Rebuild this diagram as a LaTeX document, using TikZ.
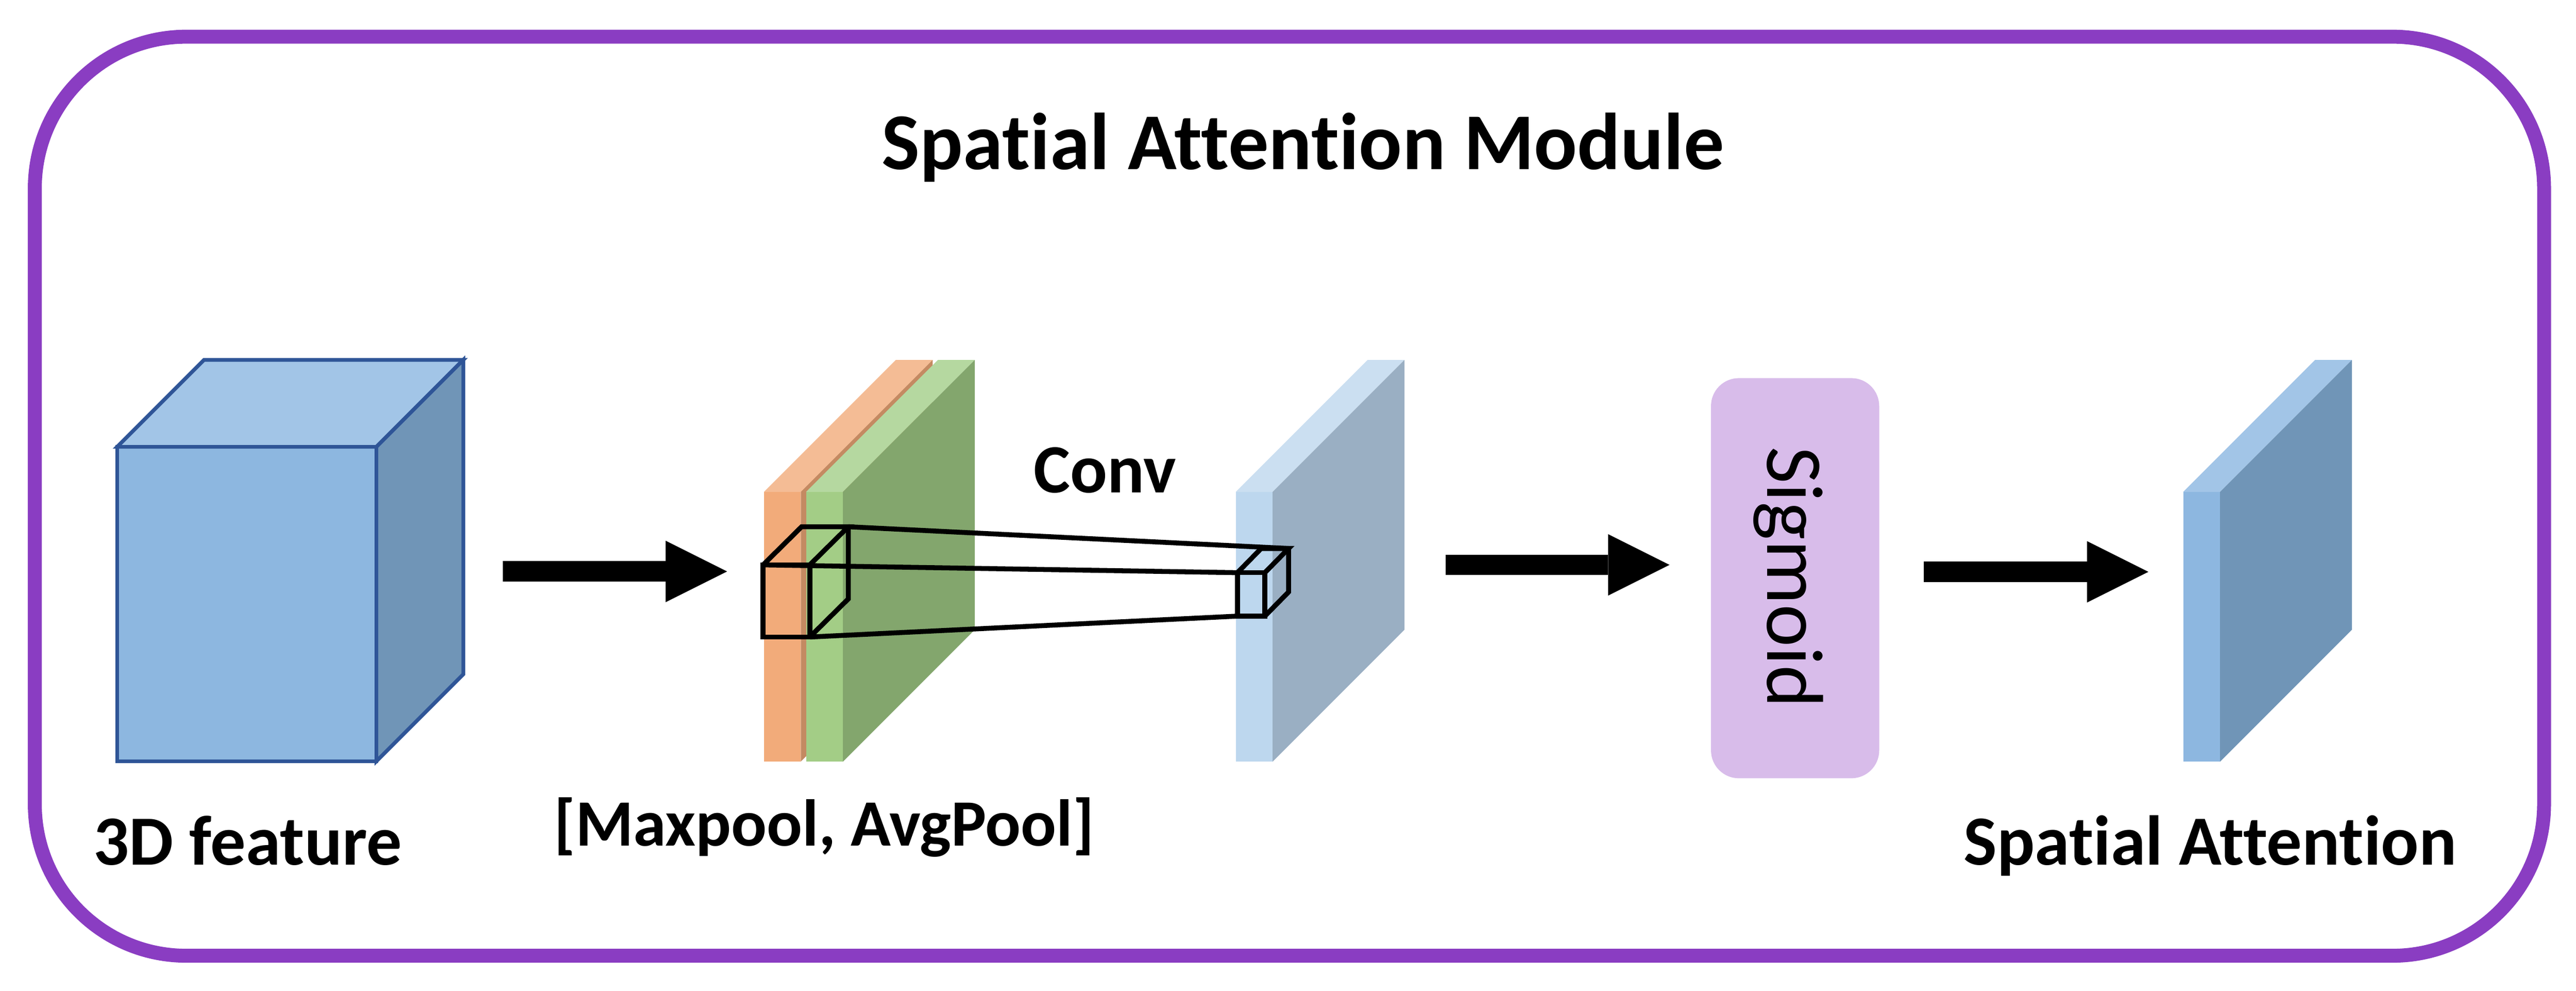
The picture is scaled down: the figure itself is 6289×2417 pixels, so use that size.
\documentclass[tikz,border=0pt]{standalone}
\usepackage{fontspec}
\setmainfont{Carlito}[Ligatures={NoCommon,NoContextual}]
\usetikzlibrary{arrows.meta}
\definecolor{framePurple}{HTML}{8A3DC2}
\definecolor{cubeEdge}{HTML}{2F5597}
\definecolor{blueF}{HTML}{8DB7E0}
\definecolor{blueT}{HTML}{A2C5E7}
\definecolor{blueS}{HTML}{7095B7}
\definecolor{paleF}{HTML}{BDD7EE}
\definecolor{paleT}{HTML}{CBDFF1}
\definecolor{paleS}{HTML}{9AAFC3}
\definecolor{orangeF}{HTML}{F2AB7A}
\definecolor{orangeT}{HTML}{F4BC95}
\definecolor{orangeS}{HTML}{C48A62}
\definecolor{greenF}{HTML}{A3CD86}
\definecolor{greenT}{HTML}{B5D8A0}
\definecolor{greenS}{HTML}{83A66D}
\definecolor{sigFill}{HTML}{D8BCEA}

\begin{document}
\begin{tikzpicture}[
	x=0.005cm,y=-0.005cm,
	frame/.style={draw=framePurple,line width=0.17cm,rounded corners=1.85cm},
	cubeface/.style={draw=cubeEdge,line width=0.045cm,line join=miter},
	kernel/.style={draw=black,line width=0.06cm,line join=miter},
	blockarrow/.style={line width=0.25cm,
		-{Triangle[length=0.75cm,width=0.75cm,line width=0pt]}},
	caption/.style={anchor=base,inner sep=0pt,
		font=\bfseries\fontsize{24.5pt}{29pt}\selectfont},
	sigbox/.style={rectangle,fill=sigFill,rounded corners=0.34cm,
		minimum width=2.055cm,minimum height=4.885cm,inner sep=0pt}
	]
	\useasboundingbox (0,0) rectangle (6289,2417);
	\draw [frame] (85,89.5) rectangle (6211,2331.5);
	\node [caption,font=\bfseries\fontsize{28pt}{34pt}\selectfont] (title) at (3181,413) {Spatial Attention Module};

	% 3D FEATURE
	\filldraw [cubeface,fill=blueF] (286,1090) rectangle (919,1857);
	\filldraw [cubeface,fill=blueT] (286,1090) -- (498,878) -- (1131,878) -- (919,1090) -- cycle;
	\filldraw [cubeface,fill=blueS] (919,1090) -- (1131,878) -- (1131,1645) -- (919,1857) -- cycle;
	\node [caption] (feat) at (605,2110) {3D feature};

	% MAXPOOL / AVGPOOL
	\begin{scope}[shift={(1865,0)}]
		\fill [orangeF] (0,1200) rectangle (90,1858);
		\fill [orangeT] (0,1200) -- (322,878) -- (412,878) -- (90,1200) -- cycle;
		\fill [orangeS] (90,1200) -- (412,878) -- (412,1536) -- (90,1858) -- cycle;
	\end{scope}
	\begin{scope}[shift={(1968,0)}]
		\fill [greenF] (0,1200) rectangle (90,1858);
		\fill [greenT] (0,1200) -- (322,878) -- (412,878) -- (90,1200) -- cycle;
		\fill [greenS] (90,1200) -- (412,878) -- (412,1536) -- (90,1858) -- cycle;
	\end{scope}
	\node [caption,font=\bfseries\fontsize{23pt}{28pt}\selectfont] (pool) at (2012,2063) {[Maxpool, AvgPool]};

	% CONV
	\begin{scope}[shift={(3017,0)}]
		\fill [paleF] (0,1200) rectangle (90,1858);
		\fill [paleT] (0,1200) -- (322,878) -- (412,878) -- (90,1200) -- cycle;
		\fill [paleS] (90,1200) -- (412,878) -- (412,1536) -- (90,1858) -- cycle;
	\end{scope}
	\node [caption,font=\bfseries\fontsize{24pt}{29pt}\selectfont] (conv) at (2698,1202) {Conv};
	\coordinate (kinFtl) at (1863,1378);
	\coordinate (kinFbr) at (1977,1554);
	\coordinate (kinBtr) at (2071,1285);
	\coordinate (koutFtl) at (3021,1397);
	\coordinate (koutFbl) at (3021,1503);
	\coordinate (koutBtr) at (3146,1338);
	\draw [kernel] (kinFtl) rectangle (kinFbr);
	\draw [kernel] (kinFtl) -- (1957,1285) -- (kinBtr) -- (1977,1378);
	\draw [kernel] (kinBtr) -- (2071,1461) -- (kinFbr);
	\draw [kernel] (koutFtl) rectangle (3088,1503);
	\draw [kernel] (koutFtl) -- (3079,1338) -- (koutBtr) -- (3088,1397);
	\draw [kernel] (koutBtr) -- (3146,1444) -- (3088,1503);
	\draw [kernel] (kinBtr) -- (koutBtr);
	\draw [kernel] (kinFtl) -- (koutFtl);
	\draw [kernel] (kinFbr) -- (koutFbl);

	% SIGMOID
	\node [sigbox] (sigm) at (4382.5,1410.5) {};
	\node [anchor=base,inner sep=0pt,rotate=-90,font=\fontsize{28pt}{34pt}\selectfont] (sigText) at (4315,1408) {Sigmoid};

	% SPATIAL ATTENTION
	\begin{scope}[shift={(5330,0)}]
		\fill [blueF] (0,1200) rectangle (90,1858);
		\fill [blueT] (0,1200) -- (322,878) -- (412,878) -- (90,1200) -- cycle;
		\fill [blueS] (90,1200) -- (412,878) -- (412,1536) -- (90,1858) -- cycle;
	\end{scope}
	\node [caption] (attn) at (5396,2110) {Spatial Attention};

	% ARROWS
	\coordinate (featOut) at (1227,1394);
	\coordinate (poolIn) at (1775,1394);
	\coordinate (convOut) at (3529,1378);
	\coordinate (sigIn) at (4076,1378);
	\coordinate (sigOut) at (4697,1395);
	\coordinate (attnIn) at (5245,1395);
	\draw [blockarrow] (featOut) -- (poolIn);
	\draw [blockarrow] (convOut) -- (sigIn);
	\draw [blockarrow] (sigOut) -- (attnIn);
\end{tikzpicture}
\end{document}
